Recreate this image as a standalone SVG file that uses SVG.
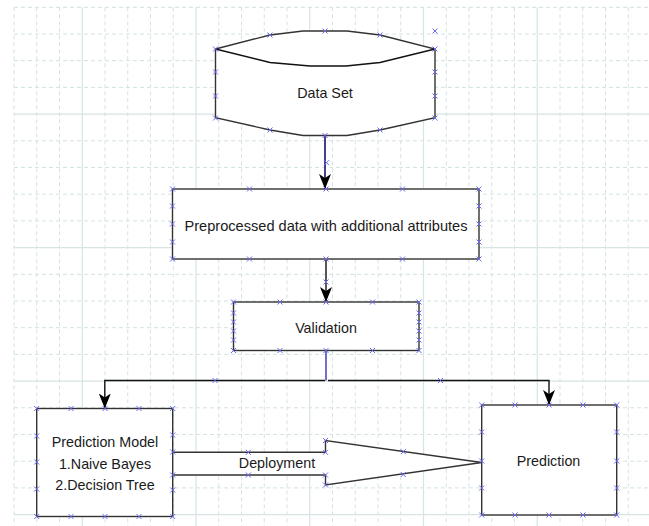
<svg xmlns="http://www.w3.org/2000/svg" xmlns:xlink="http://www.w3.org/1999/xlink" width="649" height="526" viewBox="0 0 649 526">
<style>
.gd{stroke:#d3e2e2;stroke-width:1;fill:none;stroke-dasharray:4 3}
.gs{stroke:#d6e4e4;stroke-width:1.2;fill:none}
.box{fill:#fff;stroke:#333;stroke-width:1.4}
.ln{fill:none;stroke:#111;stroke-width:1.4}
.t{font-family:"Liberation Sans",Arial,sans-serif;font-size:14.3px;fill:#1a1a1a;text-anchor:middle}
.xm{stroke:#6a6af0;stroke-width:1;fill:none}
</style>
<defs>
<marker id="ah" viewBox="0 0 15 12" refX="15" refY="6" markerWidth="15" markerHeight="12" markerUnits="userSpaceOnUse" orient="auto">
<path d="M0,0 L15,6 L0,12 L4,6 Z" fill="#000"/>
</marker>
<path id="x" class="xm" d="M-2.5,-2.5l5,5m0,-5l-5,5"/>
</defs>
<rect width="649" height="526" fill="#fff"/>
<g id="grid">
<path class="gd" d="M14,7.3V526M36.75,7.3V526M59.5,7.3V526M105,7.3V526M127.75,7.3V526M150.5,7.3V526M173.25,7.3V526M218.75,7.3V526M241.5,7.3V526M264.25,7.3V526M287,7.3V526M332.5,7.3V526M355.25,7.3V526M378,7.3V526M400.75,7.3V526M446.25,7.3V526M469,7.3V526M491.75,7.3V526M514.5,7.3V526M560,7.3V526M582.75,7.3V526M605.5,7.3V526M628.25,7.3V526"/>
<path class="gd" d="M14,7.3H649M14,34H649M14,60.7H649M14,87.4H649M14,140.8H649M14,167.5H649M14,194.2H649M14,220.9H649M14,274.3H649M14,301H649M14,327.7H649M14,354.4H649M14,407.8H649M14,434.5H649M14,461.2H649M14,487.9H649"/>
<path class="gs" d="M82.25,7.3V526M196,7.3V526M309.75,7.3V526M423.5,7.3V526M537.25,7.3V526M14,114.1H649M14,247.6H649M14,381.1H649M14,514.6H649"/>
</g>
<g id="connectors">
<path d="M325,135.7V189" fill="none" stroke="#14146e" stroke-width="1.6" marker-end="url(#ah)"/>
<path class="ln" d="M326,259V302" marker-end="url(#ah)"/>
<path d="M326,351V380.5" fill="none" stroke="#3535b5" stroke-width="1.4"/>
<path class="ln" d="M325,380.5H104.8V408.5" marker-end="url(#ah)"/>
<path class="ln" d="M328,380.5H549V405" marker-end="url(#ah)"/>
<use href="#x" x="326.5" y="162.7"/>
<use href="#x" x="326" y="282"/>
<use href="#x" x="215" y="380.5"/>
<use href="#x" x="440.5" y="380.5"/>
<g id="deployment">
<path d="M172.7,452.3H325.5V440.5L481.7,462.5L325.5,485V475H172.7" fill="#fff" stroke="#333" stroke-width="1.4"/>
<text class="t" x="277" y="468.3">Deployment</text>
<use href="#x" x="248.3" y="452.3"/>
<use href="#x" x="248.3" y="475"/>
<use href="#x" x="325.5" y="440.5"/>
<use href="#x" x="325.5" y="485"/>
<use href="#x" x="325.5" y="452.3"/>
<use href="#x" x="325.5" y="475"/>
<use href="#x" x="403.3" y="451.7"/>
<use href="#x" x="403.3" y="474.5"/>
</g>
</g>
<g id="dataset">
<path class="box" d="M215.5,49L270,35L303,31L347,31L380,35L435,49L435,117.7L380,130L347,135.5L303,135.5L270,130L215.5,117.7Z"/>
<path class="ln" stroke="#333" d="M215.5,49L270,62.5L310,66L346,66L380,62.5L435,49"/>
<text class="t" x="325" y="98.3">Data Set</text>
<use href="#x" x="215.5" y="49"/><use href="#x" x="270" y="35"/><use href="#x" x="325" y="31"/><use href="#x" x="380" y="35"/><use href="#x" x="435" y="49"/>
<use href="#x" x="215.5" y="72"/><use href="#x" x="215.5" y="96"/><use href="#x" x="215.5" y="118"/>
<use href="#x" x="435" y="72"/><use href="#x" x="435" y="96"/><use href="#x" x="435" y="118"/>
<use href="#x" x="270" y="130"/><use href="#x" x="325" y="135.5"/><use href="#x" x="380" y="130"/><use href="#x" x="435" y="31"/>
</g>
<g id="preprocessed">
<rect class="box" x="172.5" y="189" width="306.5" height="70"/>
<text class="t" x="326" y="230.7" textLength="283" lengthAdjust="spacingAndGlyphs">Preprocessed data with additional attributes</text>
<use href="#x" x="172.5" y="189"/><use href="#x" x="249.5" y="189"/><use href="#x" x="326" y="189"/><use href="#x" x="402.5" y="189"/><use href="#x" x="479" y="189"/>
<use href="#x" x="172.5" y="259"/><use href="#x" x="249.5" y="259"/><use href="#x" x="326" y="259"/><use href="#x" x="402.5" y="259"/><use href="#x" x="479" y="259"/>
<use href="#x" x="172.5" y="206"/><use href="#x" x="172.5" y="224"/><use href="#x" x="172.5" y="242"/>
<use href="#x" x="479" y="206"/><use href="#x" x="479" y="224"/><use href="#x" x="479" y="242"/>
</g>
<g id="validation">
<rect class="box" x="233.5" y="302" width="185.5" height="48.5"/>
<text class="t" x="326" y="333.3">Validation</text>
<use href="#x" x="233.5" y="302"/><use href="#x" x="280" y="302"/><use href="#x" x="326" y="302"/><use href="#x" x="372.5" y="302"/><use href="#x" x="419" y="302"/>
<use href="#x" x="233.5" y="350.5"/><use href="#x" x="280" y="350.5"/><use href="#x" x="326" y="350.5"/><use href="#x" x="372.5" y="350.5"/><use href="#x" x="419" y="350.5"/>
<use href="#x" x="233.5" y="313"/><use href="#x" x="233.5" y="322"/><use href="#x" x="233.5" y="331"/><use href="#x" x="233.5" y="340"/>
<use href="#x" x="419" y="313"/><use href="#x" x="419" y="322"/><use href="#x" x="419" y="331"/><use href="#x" x="419" y="340"/>
</g>
<g id="prediction-model">
<rect class="box" x="36.7" y="408.5" width="136" height="108"/>
<text class="t" x="105" y="447.3">Prediction Model</text>
<text class="t" x="105" y="468.7">1.Naive Bayes</text>
<text class="t" x="105" y="490">2.Decision Tree</text>
<use href="#x" x="36.7" y="408.5"/><use href="#x" x="71" y="408.5"/><use href="#x" x="105" y="408.5"/><use href="#x" x="139" y="408.5"/><use href="#x" x="172.7" y="408.5"/>
<use href="#x" x="36.7" y="516.5"/><use href="#x" x="71" y="516.5"/><use href="#x" x="105" y="516.5"/><use href="#x" x="139" y="516.5"/><use href="#x" x="172.7" y="516.5"/>
<use href="#x" x="36.7" y="436"/><use href="#x" x="36.7" y="462"/><use href="#x" x="36.7" y="489"/>
<use href="#x" x="172.7" y="435"/><use href="#x" x="172.7" y="452"/><use href="#x" x="172.7" y="475"/><use href="#x" x="172.7" y="490"/>
</g>
<g id="prediction">
<rect class="box" x="481.7" y="405" width="135" height="110"/>
<text class="t" x="548.5" y="466">Prediction</text>
<use href="#x" x="481.7" y="405"/><use href="#x" x="515" y="405"/><use href="#x" x="549" y="405"/><use href="#x" x="583" y="405"/><use href="#x" x="616.7" y="405"/>
<use href="#x" x="481.7" y="515"/><use href="#x" x="515" y="515"/><use href="#x" x="549" y="515"/><use href="#x" x="583" y="515"/><use href="#x" x="616.7" y="515"/>
<use href="#x" x="481.7" y="432"/><use href="#x" x="481.7" y="461"/><use href="#x" x="481.7" y="488"/>
<use href="#x" x="616.7" y="432"/><use href="#x" x="616.7" y="461"/><use href="#x" x="616.7" y="488"/>
</g>
</svg>
